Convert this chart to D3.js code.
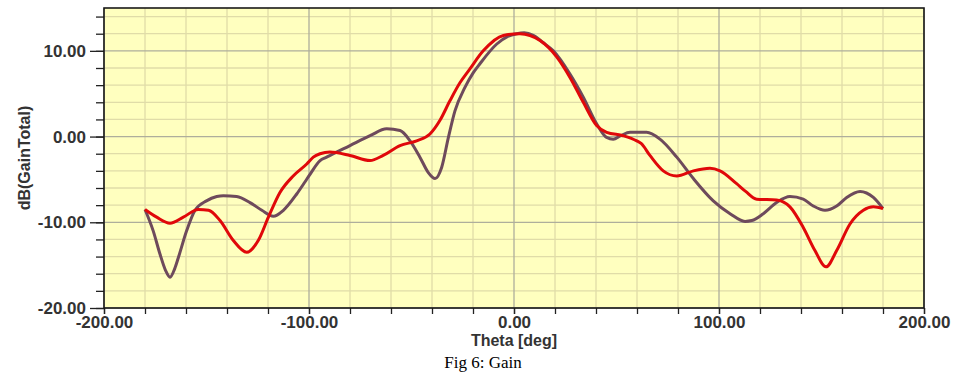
<!DOCTYPE html>
<html>
<head>
<meta charset="utf-8">
<script src="https://cdn.jsdelivr.net/npm/d3@7"></script>
<style>
    body { margin: 0; background: #fff; }
    #gain-vis { width: 959px; height: 379px; }
    text { font-family: "Liberation Sans", Arial, sans-serif; }
</style>
</head>
<body>
<div id="gain-vis"></div>
<script>

// theta values (deg) and gain (dB), one pair of arrays per curve
let thetaPurple = [-180, -176, -172.7, -170, -167.8, -165.5, -163.7, -159.7, -155.6, -150, -145, -141.8,
    -135.3, -128.8, -123, -117.4, -112.5, -106, -102, -99.5, -94.6, -91.4, -80, -70.2, -62.1, -55.6,
    -50.7, -45.9, -41.8, -38.5, -35.3, -32, -28.8, -24, -20, -16.6, -8.4, -3, 1.3, 5, 9.4, 14,
    19.2, 27.3, 33.8, 40.3, 45.2, 48.4, 52, 56.6, 64.7, 71.2, 79.4, 87.5, 97.2, 105.4, 112.7, 116,
    121.6, 128.1, 134.6, 141.1, 146, 151.7, 157.4, 162.3, 168.8, 175.3, 180];
let gainPurple = [-8.5, -11.0, -13.7, -15.6, -16.4, -15.4, -14.1, -11.0, -8.6, -7.5, -7.0, -6.9,
    -7.0, -7.7, -8.6, -9.3, -8.6, -6.7, -5.3, -4.4, -2.8, -2.4, -1.05, 0.1, 0.9, 0.7,
    -0.5, -2.4, -4.2, -4.9, -3.6, -0.1, 3.0, 5.7, 7.4, 8.5, 10.8, 11.7, 12.0, 12.1, 11.8, 11.0,
    10.0, 7.3, 4.6, 1.5, -0.1, -0.3, 0.1, 0.5, 0.5, -0.3, -2.4, -4.9, -7.5, -9.0, -9.9, -9.8,
    -9.0, -7.7, -7.0, -7.3, -8.1, -8.6, -8.1, -7.1, -6.4, -7.1, -8.4];

let thetaRed = [-180, -174.3, -167.8, -161.3, -154, -149, -143.4, -137, -130.4, -124.7, -119.8, -114.1,
    -107.7, -101.1, -97.9, -94.6, -89.8, -80, -70.2, -63.8, -55.6, -47.5, -41, -36.1, -31.2, -26.3,
    -21.5, -15, -5.2, 2.9, 12.7, 20.8, 27.3, 33.8, 40.3, 45.2, 53.3, 59.9, 62, 66.3, 72.8, 79.4,
    87.5, 95.6, 100.5, 108.6, 113, 118.4, 128.1, 134.6, 141.1, 146.8, 152.2, 157.4, 163.9, 170.4,
    175.3, 180];
let gainRed = [-8.5, -9.4, -10.1, -9.4, -8.5, -8.6, -9.8, -12.1, -13.5, -12.1, -9.4, -6.5,
    -4.6, -3.2, -2.4, -2.0, -1.8, -2.2, -2.8, -2.2, -1.05, -0.5, 0.3, 1.9, 4.2, 6.3,
    7.9, 10.0, 11.8, 12.0, 11.2, 9.3, 6.9, 4.0, 1.3, 0.5, 0.1, -0.5, -0.8, -2.2, -4.0, -4.6,
    -4.0, -3.7, -4.0, -5.5, -6.4, -7.3, -7.4, -8.2, -10.6, -13.3, -15.2, -13.3, -10.2, -8.6,
    -8.2, -8.4];

// tick values
let xMajorTicks = [-200, -100, 0, 100, 200];
let xMinorTicks = d3.range(-200, 201, 20);
let yMajorTicks = [-20, -10, 0, 10];
let yMinorTicks = d3.range(-20, 15, 2);

let xTitle = "Theta [deg]";
let yTitle = "dB(GainTotal)";
let caption = "Fig 6: Gain";


class GainVis {
    constructor(parentElement){
        this.parentElement = parentElement;
        this.series = [
            {theta: thetaPurple, gain: gainPurple, color: "#6e4a5c"},
            {theta: thetaRed, gain: gainRed, color: "#e0080a"}
        ];

        this.initVis()
    }

    initVis(){
        let vis = this;

        // plot box inside the 959 x 379 page
        vis.margin = {top: 8, right: 35, bottom: 71, left: 104};
        vis.width = 959 - vis.margin.left - vis.margin.right;
        vis.height = 379 - vis.margin.top - vis.margin.bottom;

        vis.svg = d3.select("#" + vis.parentElement).append("svg")
            .attr("width", 959)
            .attr("height", 379);

        vis.g = vis.svg.append("g")
            .attr("transform", `translate(${vis.margin.left}, ${vis.margin.top})`);

        vis.x = d3.scaleLinear().domain([-200, 200]).range([0, vis.width]);
        vis.y = d3.scaleLinear().domain([-20, 15]).range([vis.height, 0]);

        // yellow background
        vis.g.append("rect")
            .attr("width", vis.width)
            .attr("height", vis.height)
            .attr("fill", "#ffffbf");

        // grid, light lines first then the darker ones at the labels
        vis.g.selectAll(".vgrid")
            .data(xMinorTicks.filter(d => !xMajorTicks.includes(d)))
            .enter().append("line")
            .attr("class", "vgrid")
            .attr("x1", d => vis.x(d)).attr("x2", d => vis.x(d))
            .attr("y1", 0).attr("y2", vis.height)
            .attr("stroke", "#e0dca8").attr("stroke-width", 1.3);

        vis.g.selectAll(".hgrid")
            .data(yMinorTicks.filter(d => !yMajorTicks.includes(d)))
            .enter().append("line")
            .attr("class", "hgrid")
            .attr("x1", 0).attr("x2", vis.width)
            .attr("y1", d => vis.y(d)).attr("y2", d => vis.y(d))
            .attr("stroke", "#e0dca8").attr("stroke-width", 1.3);

        vis.g.selectAll(".vgrid-major")
            .data(xMajorTicks)
            .enter().append("line")
            .attr("class", "vgrid-major")
            .attr("x1", d => vis.x(d)).attr("x2", d => vis.x(d))
            .attr("y1", 0).attr("y2", vis.height)
            .attr("stroke", "#aeae9c").attr("stroke-width", 1.3);

        vis.g.selectAll(".hgrid-major")
            .data(yMajorTicks)
            .enter().append("line")
            .attr("class", "hgrid-major")
            .attr("x1", 0).attr("x2", vis.width)
            .attr("y1", d => vis.y(d)).attr("y2", d => vis.y(d))
            .attr("stroke", "#aeae9c").attr("stroke-width", 1.3);

        vis.fmt = d => d.toFixed(2);

        // axes: minor ticks without labels, major ticks with labels
        vis.g.append("g")
            .attr("class", "axis")
            .call(d3.axisLeft(vis.y).tickValues(yMinorTicks).tickSize(8).tickFormat(""));

        vis.g.append("g")
            .attr("class", "axis")
            .call(d3.axisLeft(vis.y).tickValues(yMajorTicks).tickSize(14).tickPadding(4).tickFormat(vis.fmt));

        vis.g.append("g")
            .attr("class", "axis")
            .attr("transform", `translate(0, ${vis.height})`)
            .call(d3.axisBottom(vis.x).tickValues(xMinorTicks).tickSize(6).tickFormat(""));

        vis.g.append("g")
            .attr("class", "axis")
            .attr("transform", `translate(0, ${vis.height})`)
            .call(d3.axisBottom(vis.x).tickValues(xMajorTicks).tickSize(6).tickPadding(2).tickFormat(vis.fmt));

        vis.g.selectAll(".axis .domain").remove();
        vis.g.selectAll(".axis line").attr("stroke", "#222").attr("stroke-width", 1.3);
        vis.g.selectAll(".axis text")
            .attr("fill", "#333")
            .style("font-size", "17px")
            .style("font-weight", "bold")
            .style("font-family", "'Liberation Sans', Arial, sans-serif");

        // frame around the plot
        vis.g.append("rect")
            .attr("width", vis.width)
            .attr("height", vis.height)
            .attr("fill", "none")
            .attr("stroke", "#1a1a1a")
            .attr("stroke-width", 1.6);

        // titles
        vis.g.append("text")
            .attr("x", vis.width / 2)
            .attr("y", vis.height + 38)
            .attr("text-anchor", "middle")
            .attr("fill", "#333")
            .style("font-size", "16px")
            .style("font-weight", "bold")
            .text(xTitle);

        vis.svg.append("text")
            .attr("transform", `translate(30, ${vis.margin.top + vis.height / 2}) rotate(-90)`)
            .attr("text-anchor", "middle")
            .attr("fill", "#333")
            .style("font-size", "16px")
            .style("font-weight", "bold")
            .text(yTitle);

        vis.svg.append("text")
            .attr("x", 483)
            .attr("y", 368)
            .attr("text-anchor", "middle")
            .attr("fill", "#000")
            .style("font-family", "'Liberation Serif', 'Times New Roman', serif")
            .style("font-size", "17px")
            .text(caption);

        vis.line = d3.line()
            .x(d => vis.x(d[0]))
            .y(d => vis.y(d[1]))
            .curve(d3.curveMonotoneX);

        vis.wrangleData();
    }

    wrangleData(){
        let vis = this;

        // zip theta and gain into point pairs
        vis.displayData = vis.series.map(s => ({
            color: s.color,
            points: s.theta.map((t, i) => [t, s.gain[i]])
        }));

        vis.updateVis();
    }

    updateVis(){
        let vis = this;

        vis.g.selectAll(".curve")
            .data(vis.displayData)
            .enter()
            .append("path")
            .attr("class", "curve")
            .attr("fill", "none")
            .attr("stroke", d => d.color)
            .attr("stroke-width", 3)
            .attr("stroke-linejoin", "round")
            .attr("d", d => vis.line(d.points));
    }
}

new GainVis("gain-vis");
</script>
</body>
</html>
